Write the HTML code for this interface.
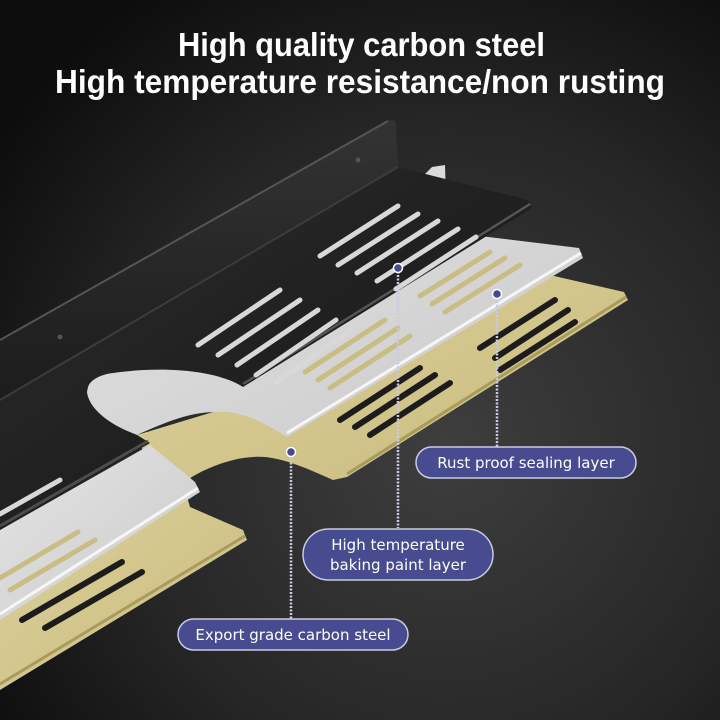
<!DOCTYPE html>
<html><head><meta charset="utf-8"><style>
html,body{margin:0;padding:0;width:720px;height:720px;overflow:hidden;background:#1a1a1a}
svg{display:block}
.t{font-family:"Liberation Sans",sans-serif;font-weight:bold;fill:#fff;text-anchor:start}
.p{font-family:"DejaVu Sans","Liberation Sans",sans-serif;fill:#fff;font-size:15px;text-anchor:middle}
</style></head><body>
<svg width="720" height="720" viewBox="0 0 720 720" xmlns="http://www.w3.org/2000/svg">
<defs>
<radialGradient id="bg" cx="0.62" cy="0.62" r="0.75">
<stop offset="0" stop-color="#3e3e3e"/><stop offset="0.6" stop-color="#262626"/><stop offset="1" stop-color="#0d0d0d"/>
</radialGradient>
<linearGradient id="gold" x1="0" y1="0" x2="1" y2="1"><stop offset="0" stop-color="#dcd29e"/><stop offset="1" stop-color="#c9bb7c"/></linearGradient>
<linearGradient id="sil" x1="0" y1="0" x2="1" y2="1"><stop offset="0" stop-color="#e4e4e4"/><stop offset="1" stop-color="#cacaca"/></linearGradient>
<linearGradient id="blk" x1="0" y1="0" x2="1" y2="1"><stop offset="0" stop-color="#2c2c2c"/><stop offset="1" stop-color="#151515"/></linearGradient>
<linearGradient id="wall" x1="0" y1="0" x2="0" y2="1"><stop offset="0" stop-color="#333"/><stop offset="1" stop-color="#1c1c1c"/></linearGradient>
</defs>
<rect width="720" height="720" fill="url(#bg)"/>
<text class="t" x="178" y="56" font-size="33" textLength="367" lengthAdjust="spacingAndGlyphs">High quality carbon steel</text>
<text class="t" x="55" y="93" font-size="33" textLength="610" lengthAdjust="spacingAndGlyphs">High temperature resistance/non rusting</text>

<!-- gold -->
<path d="M213 412 L440 250 L624 292 L628 300 L347 477 L333 480 C300 465 275 455 253 457 C230 458 200 470 183 483 L150 470 L137 435 Z" fill="url(#gold)"/>
<path d="M183 483 L190 507 L243 530 L247 540 L0 690 L0 600 L150 500 Z" fill="url(#gold)"/>
<path d="M626 297 L347 474 M245 536 L0 684" stroke="#a99b5c" stroke-width="3" fill="none"/>
<g stroke="#1c1c1c" stroke-width="6" stroke-linecap="round">
<line x1="555" y1="300" x2="480" y2="348"/><line x1="568" y1="310" x2="495" y2="358"/><line x1="575" y1="322" x2="500" y2="370"/>
<line x1="420" y1="368" x2="340" y2="420"/><line x1="435" y1="375" x2="355" y2="427"/><line x1="450" y1="383" x2="370" y2="435"/>
<line x1="122" y1="562" x2="22" y2="620"/><line x1="142" y1="572" x2="45" y2="628"/>
</g>

<!-- silver -->
<path d="M432 167 L445 165 L447 232 L579 248 L583 258 L287 437 C260 420 240 410 213 412 C190 413 170 420 137 435 C110 425 90 410 87 393 C88 378 100 370 113 373 L300 300 Z" fill="url(#sil)"/>
<path d="M150 445 L195 482 L200 492 L0 620 L0 530 Z" fill="url(#sil)"/>
<path d="M581 253 L287 433 M198 488 L0 614" stroke="#f6f6f6" stroke-width="3" fill="none"/>
<g stroke="#c9bd84" stroke-width="5" stroke-linecap="round">
<line x1="490" y1="252" x2="420" y2="296"/><line x1="505" y1="258" x2="432" y2="304"/><line x1="520" y1="265" x2="445" y2="312"/>
<line x1="385" y1="320" x2="305" y2="372"/><line x1="398" y1="328" x2="318" y2="380"/><line x1="410" y1="336" x2="330" y2="388"/>
<line x1="78" y1="532" x2="0" y2="578"/><line x1="95" y1="540" x2="10" y2="590"/>
</g>

<!-- black -->
<path d="M0 340 L388 121 Q396 118 396 126 L398 167 L0 400 Z" fill="url(#wall)"/>
<path d="M0 340 L388 121" stroke="#555" stroke-width="2"/>
<path d="M0 400 L398 167 L528 200 L532 208 L243 387 C220 372 170 365 113 373 C95 375 85 385 87 393 C90 410 110 425 137 435 L150 443 L0 530 Z" fill="url(#blk)"/>
<path d="M0 400 L398 167" stroke="#3c3c3c" stroke-width="2"/>
<path d="M530 204 L243 384" stroke="#555" stroke-width="2.5"/>
<path d="M148 441 L0 526" stroke="#4c4c4c" stroke-width="3"/>
<g stroke="#d8d8d8" stroke-width="5" stroke-linecap="round">
<line x1="398" y1="206" x2="320" y2="256"/><line x1="418" y1="214" x2="338" y2="265"/><line x1="438" y1="221" x2="357" y2="273"/><line x1="458" y1="229" x2="377" y2="281"/><line x1="476" y1="237" x2="396" y2="289"/>
<line x1="280" y1="290" x2="198" y2="345"/><line x1="300" y1="300" x2="218" y2="355"/><line x1="318" y1="310" x2="237" y2="365"/><line x1="336" y1="320" x2="256" y2="375"/><line x1="352" y1="330" x2="276" y2="382"/>
<line x1="60" y1="480" x2="0" y2="514"/>
</g>
<circle cx="358" cy="160" r="2.5" fill="#555"/><circle cx="60" cy="337" r="2.5" fill="#555"/>

<!-- callouts -->
<g stroke="#c8cbe6" stroke-width="2.5" stroke-dasharray="2 1.5">
<line x1="398" y1="268" x2="398" y2="528"/><line x1="497" y1="294" x2="497" y2="447"/><line x1="291" y1="452" x2="291" y2="619"/>
</g>
<g fill="#454a8f" stroke="#fff" stroke-width="1.5">
<circle cx="398" cy="268" r="4.5"/><circle cx="497" cy="294" r="4.5"/><circle cx="291" cy="452" r="4.5"/>
</g>
<g fill="#474c90" stroke="#c9cbe0" stroke-width="1.5">
<rect x="416" y="447" width="220" height="31" rx="15.5"/>
<rect x="303" y="529" width="190" height="51" rx="25.5"/>
<rect x="178" y="619" width="230" height="31" rx="15.5"/>
</g>
<text class="p" x="526" y="468">Rust proof sealing layer</text>
<text class="p" x="398" y="550">High temperature</text>
<text class="p" x="398" y="570">baking paint layer</text>
<text class="p" x="293" y="640">Export grade carbon steel</text>
</svg>
</body></html>
